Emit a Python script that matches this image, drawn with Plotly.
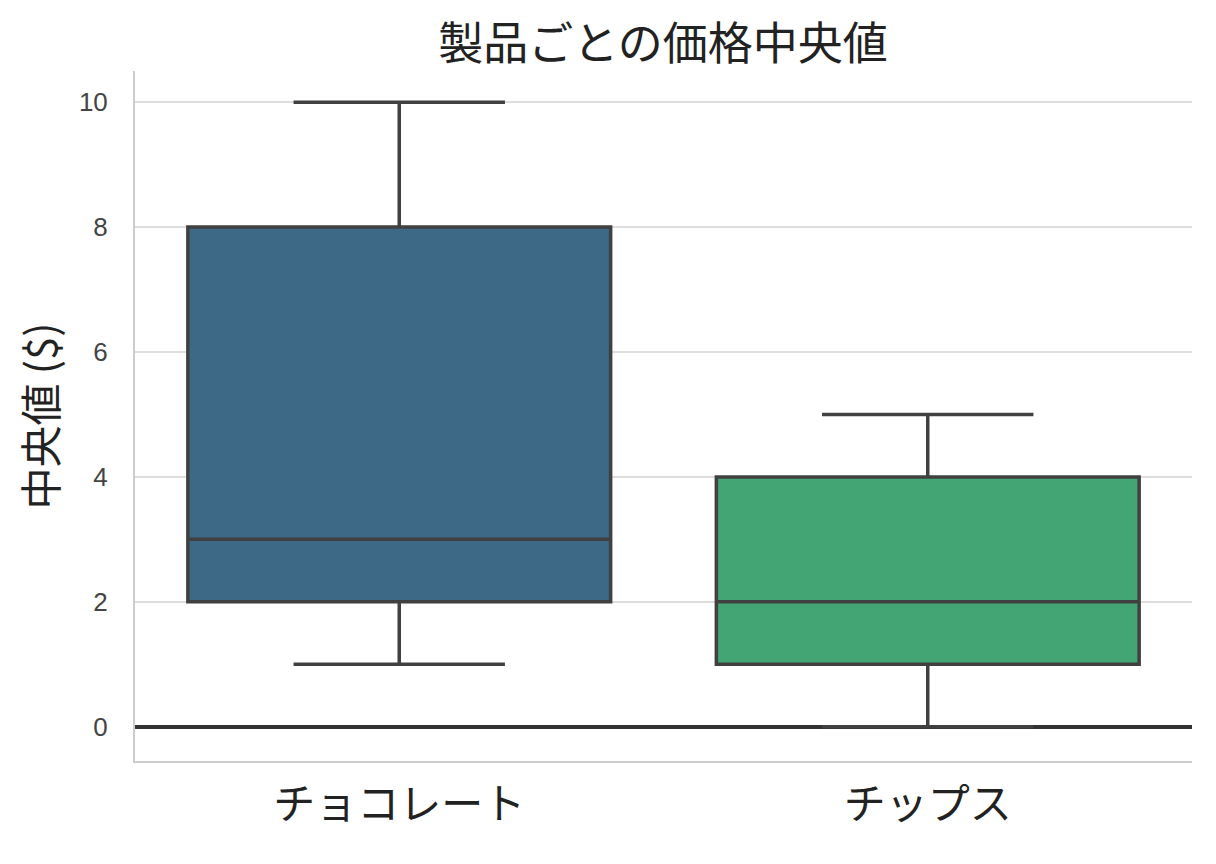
import plotly.graph_objects as go

categories = ["チョコレート", "チップス"]
lower = [1, 0]
q1 = [2, 1]
median = [3, 2]
q3 = [8, 4]
upper = [10, 5]
colors = ["#3d6886", "#43a574"]
yticks = [0, 2, 4, 6, 8, 10]

fig = go.Figure()
for i, c in enumerate(categories):
    fig.add_trace(go.Box(
        x=[c], q1=[q1[i]], median=[median[i]], q3=[q3[i]],
        lowerfence=[lower[i]], upperfence=[upper[i]],
        fillcolor=colors[i], line=dict(color="#404040", width=3.5),
        width=0.8, whiskerwidth=0.5, boxpoints=False, showlegend=False,
        hoverinfo="skip",
    ))

fig.update_layout(
    width=1216, height=864,
    paper_bgcolor="white", plot_bgcolor="white",
    margin=dict(l=127, r=32, t=63, b=111),
    title=dict(text="製品ごとの価格中央値", x=0.5387, xanchor="center", y=0.958, yanchor="middle",
               font=dict(family="Noto Sans CJK JP", size=45, color="#222")),
    boxmode="overlay",
)
fig.update_xaxes(
    range=[-0.5, 1.5], showgrid=False, showline=True, linecolor="#cccccc", linewidth=2,
    ticks="", tickfont=dict(family="Noto Sans CJK JP", size=42, color="#222"),
    ticklabelstandoff=6, zeroline=False,
)
fig.update_yaxes(
    range=[-0.55, 10.5], tickvals=yticks, showgrid=True, gridcolor="#dddddd", gridwidth=1.5,
    showline=True, linecolor="#cccccc", linewidth=2,
    zeroline=True, zerolinecolor="#333333", zerolinewidth=4,
    tickfont=dict(family="Liberation Sans", size=26, color="#444"),
    ticklabelstandoff=20,
    title=dict(text="中央値 ($)", font=dict(family="Noto Sans CJK JP", size=42, color="#222"), standoff=18),
)
fig.write_html("out.html")
